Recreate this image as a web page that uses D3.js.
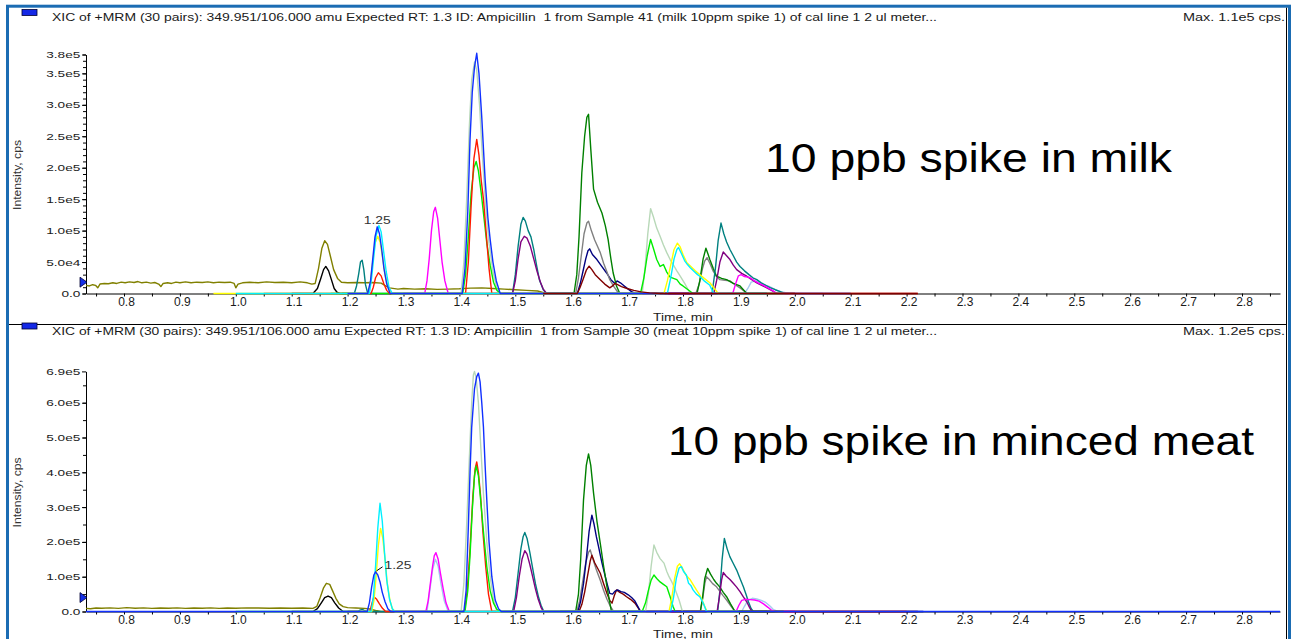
<!DOCTYPE html>
<html>
<head>
<meta charset="utf-8">
<script src="https://cdn.jsdelivr.net/npm/d3@7"></script>
<style>
body { margin: 0; background: #fff; }
svg { display: block; }
text { font-family: "Liberation Sans", Arial, sans-serif; fill: #1a1a1a; white-space: pre; }
</style>
</head>
<body>
<svg></svg>
<script>
// x axis (time, min)
let xTicks = [0.8, 0.9, 1.0, 1.1, 1.2, 1.3, 1.4, 1.5, 1.6, 1.7, 1.8, 1.9, 2.0, 2.1, 2.2, 2.3, 2.4, 2.5, 2.6, 2.7, 2.8];
let xLabels = ["0.8", "0.9", "1.0", "1.1", "1.2", "1.3", "1.4", "1.5", "1.6", "1.7", "1.8", "1.9", "2.0", "2.1", "2.2", "2.3", "2.4", "2.5", "2.6", "2.7", "2.8"];
let xMinorTicks = [0.75, 0.85, 0.95, 1.05, 1.15, 1.25, 1.35, 1.45, 1.55, 1.65, 1.75, 1.85, 1.95, 2.05, 2.15, 2.25, 2.35, 2.45, 2.55, 2.65, 2.75, 2.85];

// y axes (intensity, cps)
let milkYTicks = [0, 50000, 100000, 150000, 200000, 250000, 300000, 350000, 380000];
let milkYLabels = ["0.0", "5.0e4", "1.0e5", "1.5e5", "2.0e5", "2.5e5", "3.0e5", "3.5e5", "3.8e5"];
let meatYTicks = [0, 100000, 200000, 300000, 400000, 500000, 600000, 690000];
let meatYLabels = ["0.0", "1.0e5", "2.0e5", "3.0e5", "4.0e5", "5.0e5", "6.0e5", "6.9e5"];

let milkTitle = "XIC of +MRM (30 pairs): 349.951/106.000 amu Expected RT: 1.3 ID: Ampicillin  1 from Sample 41 (milk 10ppm spike 1) of cal line 1 2 ul meter...";
let meatTitle = "XIC of +MRM (30 pairs): 349.951/106.000 amu Expected RT: 1.3 ID: Ampicillin  1 from Sample 30 (meat 10ppm spike 1) of cal line 1 2 ul meter...";
let milkMax = "Max. 1.1e5 cps.";
let meatMax = "Max. 1.2e5 cps.";
let milkNote = "10 ppb spike in milk";
let meatNote = "10 ppb spike in minced meat";

// ---- milk traces [time, cps] ----
let milkOlive = [[0.732,13000],[0.738,12000],[0.744,14000],[0.749,13000],[0.753,9000],[0.757,15000],[0.765,16000],[0.772,15500],[0.78,17000],[0.787,16000],[0.795,18000],[0.802,17000],[0.81,18500],[0.818,17500],[0.825,19000],[0.832,17000],[0.84,18000],[0.848,16500],[0.855,17500],[0.862,15000],[0.866,11000],[0.87,16000],[0.878,17000],[0.885,16000],[0.893,18000],[0.9,17000],[0.91,18500],[0.92,17000],[0.93,18000],[0.94,17500],[0.95,18500],[0.96,17000],[0.97,18000],[0.98,17500],[0.99,18000],[0.997,16000],[1.0,9000],[1.004,15000],[1.012,17000],[1.025,18000],[1.04,17000],[1.055,18500],[1.07,17500],[1.085,18000],[1.1,17000],[1.115,18500],[1.128,17000],[1.136,15000],[1.142,16000],[1.148,40000],[1.154,72000],[1.159,84000],[1.164,78000],[1.169,60000],[1.175,38000],[1.182,24000],[1.189,18000],[1.2,17000],[1.215,17500],[1.23,17000],[1.245,17500],[1.26,16500],[1.268,12000],[1.275,9000],[1.29,7000],[1.3,8000],[1.32,7000],[1.34,7500],[1.36,6500],[1.38,7000],[1.4,7500],[1.42,8500],[1.44,9000],[1.46,8000],[1.48,7000],[1.5,6000],[1.52,5000],[1.54,4000],[1.555,0],[1.6,0]];
let milkBlack = [[1.1,0],[1.138,0],[1.146,8000],[1.152,24000],[1.157,38000],[1.161,43000],[1.166,36000],[1.171,22000],[1.176,8000],[1.181,2000],[1.186,0],[1.2,0]];
let milkTeal = [[1.19,0],[1.212,0],[1.216,12000],[1.22,32000],[1.223,50000],[1.226,53000],[1.229,38000],[1.232,14000],[1.236,0],[1.495,0],[1.5,30000],[1.505,75000],[1.51,110000],[1.514,121000],[1.518,115000],[1.523,100000],[1.528,90000],[1.533,70000],[1.538,45000],[1.543,22000],[1.55,6000],[1.556,0],[1.852,0],[1.858,40000],[1.863,85000],[1.868,112000],[1.873,95000],[1.878,82000],[1.884,70000],[1.89,60000],[1.896,50000],[1.902,43000],[1.91,36000],[1.918,30000],[1.925,25000],[1.932,22000],[1.94,17000],[1.948,13000],[1.956,9500],[1.965,6000],[1.975,2500],[1.982,0],[2.0,0]];
let milkBlue = [[1.2,0],[1.236,0],[1.241,20000],[1.245,55000],[1.249,90000],[1.253,106000],[1.257,95000],[1.261,70000],[1.265,40000],[1.27,15000],[1.276,0],[1.405,0],[1.41,40000],[1.415,130000],[1.419,245000],[1.423,320000],[1.427,360000],[1.431,382000],[1.435,350000],[1.44,280000],[1.446,181000],[1.451,120000],[1.455,86000],[1.46,50000],[1.466,20000],[1.473,0],[2.1,0]];
let milkCyan = [[1.0,0],[1.239,0],[1.243,25000],[1.247,60000],[1.251,92000],[1.256,108000],[1.26,98000],[1.264,70000],[1.269,35000],[1.274,10000],[1.28,0],[1.772,0],[1.778,25000],[1.784,55000],[1.789,70000],[1.792,73000],[1.797,64000],[1.803,52000],[1.808,46000],[1.813,41000],[1.82,35000],[1.826,30000],[1.83,27500],[1.838,20000],[1.848,13000],[1.855,0],[1.95,0]];
let milkYellow = [[0.96,0],[1.237,0],[1.241,20000],[1.245,50000],[1.249,80000],[1.254,91000],[1.258,82000],[1.262,60000],[1.267,30000],[1.272,10000],[1.278,0],[1.766,0],[1.772,20000],[1.778,45000],[1.784,70000],[1.79,80000],[1.795,74000],[1.8,62000],[1.807,49000],[1.815,42000],[1.822,36000],[1.83,30000],[1.838,24000],[1.848,17000],[1.856,8000],[1.863,0],[2.0,0]];
let milkRed = [[1.05,0],[1.242,0],[1.246,10000],[1.25,25000],[1.255,33000],[1.26,28000],[1.265,15000],[1.27,5000],[1.275,0],[1.411,0],[1.416,50000],[1.421,140000],[1.426,215000],[1.431,245000],[1.435,220000],[1.439,180000],[1.443,150000],[1.448,95000],[1.453,40000],[1.458,0],[2.22,0]];
let milkMagenta = [[1.3,0],[1.338,0],[1.342,20000],[1.346,55000],[1.35,100000],[1.354,130000],[1.357,137000],[1.361,120000],[1.365,85000],[1.369,50000],[1.374,20000],[1.38,0],[1.889,0],[1.894,15000],[1.899,28000],[1.904,30000],[1.91,27000],[1.916,26000],[1.92,25000],[1.928,20000],[1.936,16000],[1.944,13000],[1.952,9000],[1.96,5000],[1.968,0],[2.0,0]];
let milkSage = [[1.38,0],[1.403,0],[1.408,50000],[1.413,150000],[1.418,270000],[1.422,340000],[1.427,368000],[1.431,355000],[1.436,300000],[1.441,220000],[1.447,140000],[1.453,80000],[1.46,35000],[1.467,8000],[1.472,0],[1.727,0],[1.732,40000],[1.737,95000],[1.742,135000],[1.747,122000],[1.753,104000],[1.759,91000],[1.765,77000],[1.771,65000],[1.777,54000],[1.783,45000],[1.789,36000],[1.795,27500],[1.803,16000],[1.813,0],[1.85,0]];
let milkGreen = [[1.17,0],[1.406,0],[1.411,30000],[1.416,90000],[1.421,160000],[1.426,200000],[1.43,210000],[1.434,195000],[1.439,160000],[1.444,120000],[1.449,80000],[1.455,45000],[1.461,18000],[1.467,5000],[1.474,0],[1.724,0],[1.73,25000],[1.736,60000],[1.742,86000],[1.747,72000],[1.753,54000],[1.759,43000],[1.765,46000],[1.771,34000],[1.777,26000],[1.783,24000],[1.789,22000],[1.795,15000],[1.8,12000],[1.809,6000],[1.818,0],[1.98,0]];
let milkPurple = [[1.47,0],[1.495,0],[1.5,20000],[1.505,55000],[1.51,82000],[1.516,91000],[1.521,88000],[1.527,75000],[1.533,55000],[1.539,35000],[1.545,18000],[1.55,7000],[1.556,0],[1.855,0],[1.86,20000],[1.866,50000],[1.872,66000],[1.878,60000],[1.884,54000],[1.89,45000],[1.896,38000],[1.905,32000],[1.914,27500],[1.923,22000],[1.932,17000],[1.941,13000],[1.95,9000],[1.96,4000],[1.968,0],[2.0,0]];
let milkDarkGreen = [[1.58,0],[1.605,0],[1.61,30000],[1.614,90000],[1.619,192000],[1.624,250000],[1.628,280000],[1.631,285000],[1.635,230000],[1.64,166000],[1.647,145000],[1.655,128000],[1.661,108000],[1.666,86000],[1.671,55000],[1.675,33000],[1.681,12000],[1.687,0],[1.825,0],[1.83,20000],[1.836,55000],[1.841,72000],[1.845,62000],[1.848,54000],[1.854,40000],[1.86,27500],[1.869,24000],[1.878,22000],[1.89,16000],[1.902,12000],[1.914,0],[1.95,0]];
let milkGray = [[1.58,0],[1.608,0],[1.613,25000],[1.618,60000],[1.623,95000],[1.628,112000],[1.631,115000],[1.636,100000],[1.642,85000],[1.647,75000],[1.652,65000],[1.658,48000],[1.664,34000],[1.669,22000],[1.677,10000],[1.685,0],[1.823,0],[1.829,15000],[1.835,40000],[1.839,52000],[1.843,57000],[1.848,48000],[1.854,35500],[1.86,27000],[1.866,22000],[1.875,21000],[1.884,20000],[1.893,14000],[1.902,9000],[1.915,0],[1.95,0]];
let milkNavy = [[1.55,0],[1.611,0],[1.616,15000],[1.621,35000],[1.626,55000],[1.63,68000],[1.633,71000],[1.638,62000],[1.646,54000],[1.654,44000],[1.663,33000],[1.671,22000],[1.678,16000],[1.682,20000],[1.688,17000],[1.695,12000],[1.702,7000],[1.708,3000],[1.715,0],[1.75,0]];
let milkMaroon = [[1.55,0],[1.611,0],[1.616,10000],[1.621,22000],[1.627,37000],[1.632,43500],[1.637,38000],[1.643,30000],[1.652,22000],[1.66,15000],[1.669,9000],[1.674,12000],[1.678,16000],[1.683,14000],[1.69,11000],[1.7,8000],[1.712,5000],[1.725,2500],[1.74,1000],[1.76,0],[2.22,0]];
let milkLightBlue = [[1.88,0],[1.91,0],[1.916,8000],[1.922,18000],[1.93,20000],[1.938,17000],[1.946,14000],[1.955,11000],[1.965,6000],[1.975,3000],[1.99,0],[2.05,0]];

// ---- minced meat traces [time, cps] ----
let meatOlive = [[0.732,9000],[0.74,8000],[0.75,10000],[0.76,9500],[0.775,10500],[0.79,9000],[0.805,11000],[0.82,9500],[0.835,10500],[0.85,9000],[0.865,10000],[0.88,9500],[0.895,10500],[0.91,9000],[0.925,10000],[0.94,9500],[0.955,10500],[0.97,9000],[0.985,10000],[1.0,9500],[1.02,10500],[1.04,10000],[1.06,9500],[1.08,10000],[1.1,9500],[1.12,10000],[1.138,9000],[1.145,15000],[1.151,40000],[1.157,68000],[1.162,81000],[1.168,78000],[1.173,60000],[1.179,38000],[1.185,22000],[1.192,14000],[1.2,11000],[1.215,10000],[1.23,9000],[1.24,7000],[1.25,3000],[1.26,0],[1.3,0]];
let meatBlack = [[1.1,0],[1.138,0],[1.146,8000],[1.153,25000],[1.159,40000],[1.165,44500],[1.171,40000],[1.177,25000],[1.184,10000],[1.192,0],[1.22,0]];
let meatTeal = [[1.2,0],[1.218,0],[1.222,4000],[1.226,6000],[1.23,3000],[1.235,0],[1.495,0],[1.5,40000],[1.505,110000],[1.51,180000],[1.514,215000],[1.517,227000],[1.521,210000],[1.526,170000],[1.531,125000],[1.536,80000],[1.541,45000],[1.546,18000],[1.551,0],[1.862,0],[1.866,60000],[1.87,150000],[1.874,210000],[1.879,180000],[1.884,157000],[1.89,138000],[1.896,119000],[1.902,95000],[1.908,71000],[1.913,48000],[1.917,28000],[1.922,8000],[1.926,0],[1.98,0]];
let meatBlue = [[0.732,0],[1.235,0],[1.239,25000],[1.243,70000],[1.247,105000],[1.25,114000],[1.254,105000],[1.258,85000],[1.262,55000],[1.267,28000],[1.272,8000],[1.277,0],[1.408,0],[1.412,60000],[1.416,244000],[1.419,400000],[1.422,530000],[1.427,640000],[1.431,675000],[1.434,685000],[1.437,660000],[1.44,600000],[1.443,530000],[1.446,420000],[1.449,320000],[1.453,200000],[1.458,100000],[1.464,33000],[1.47,8000],[1.475,0],[2.868,0]];
let meatCyan = [[1.0,0],[1.242,0],[1.246,40000],[1.25,130000],[1.254,240000],[1.258,311000],[1.262,260000],[1.266,170000],[1.27,90000],[1.275,35000],[1.28,8000],[1.284,0],[1.778,0],[1.783,40000],[1.788,95000],[1.793,125000],[1.797,129000],[1.801,115000],[1.806,105000],[1.81,81000],[1.814,75000],[1.818,62000],[1.824,50000],[1.83,42500],[1.836,25000],[1.842,0],[1.9,0]];
let meatYellow = [[1.0,0],[1.243,0],[1.247,30000],[1.251,100000],[1.255,190000],[1.259,239000],[1.263,210000],[1.267,150000],[1.271,80000],[1.276,30000],[1.28,8000],[1.285,0],[1.775,0],[1.78,40000],[1.785,95000],[1.79,130000],[1.794,137000],[1.799,125000],[1.805,105000],[1.813,91000],[1.819,75000],[1.824,62000],[1.829,50000],[1.833,38000],[1.838,18000],[1.843,0],[1.9,0]];
let meatRed = [[1.2,0],[1.24,0],[1.243,20000],[1.247,42500],[1.252,35000],[1.257,22000],[1.262,10000],[1.268,0],[1.409,0],[1.414,60000],[1.419,180000],[1.424,330000],[1.428,410000],[1.431,430000],[1.434,400000],[1.438,330000],[1.442,230000],[1.447,130000],[1.452,50000],[1.458,0],[2.2,0]];
let meatMagenta = [[1.3,0],[1.34,0],[1.344,30000],[1.348,80000],[1.352,130000],[1.355,160000],[1.358,169000],[1.362,150000],[1.366,110000],[1.371,65000],[1.376,25000],[1.382,0],[1.895,0],[1.9,18000],[1.905,32000],[1.912,35000],[1.92,34000],[1.928,33000],[1.936,30000],[1.944,22000],[1.952,12000],[1.958,4000],[1.965,0],[2.0,0]];
let meatLightBlue = [[1.33,0],[1.342,0],[1.347,60000],[1.352,120000],[1.357,150000],[1.362,130000],[1.367,80000],[1.373,30000],[1.38,0],[1.905,0],[1.91,15000],[1.916,32000],[1.924,38000],[1.932,36000],[1.94,32000],[1.948,26000],[1.956,15000],[1.962,5000],[1.97,0],[2.0,0]];
let meatSage = [[1.38,0],[1.403,0],[1.408,80000],[1.413,250000],[1.418,450000],[1.422,600000],[1.425,680000],[1.427,690000],[1.43,670000],[1.434,600000],[1.438,480000],[1.443,340000],[1.449,200000],[1.455,100000],[1.461,35000],[1.467,0],[1.733,0],[1.738,50000],[1.743,130000],[1.748,191000],[1.753,170000],[1.759,152000],[1.766,139000],[1.771,115000],[1.775,100000],[1.78,85000],[1.784,71000],[1.789,50000],[1.793,33000],[1.799,0],[1.85,0]];
let meatGreen = [[1.38,0],[1.41,0],[1.415,60000],[1.419,160000],[1.423,290000],[1.427,390000],[1.43,418000],[1.434,390000],[1.438,320000],[1.443,230000],[1.449,129000],[1.455,60000],[1.461,24000],[1.467,6000],[1.473,0],[1.727,0],[1.733,25000],[1.738,60000],[1.743,90000],[1.748,105000],[1.753,95000],[1.759,85000],[1.765,78000],[1.771,71000],[1.777,42500],[1.782,15000],[1.786,0],[1.98,0]];
let meatPurple = [[1.47,0],[1.497,0],[1.502,40000],[1.507,100000],[1.512,150000],[1.517,175000],[1.521,165000],[1.526,135000],[1.531,100000],[1.536,65000],[1.541,35000],[1.546,12000],[1.55,0],[1.861,0],[1.865,40000],[1.869,90000],[1.872,112000],[1.877,102000],[1.884,92000],[1.89,81000],[1.896,70000],[1.902,57000],[1.908,42000],[1.914,28000],[1.919,12000],[1.923,0],[1.96,0]];
let meatDarkGreen = [[1.58,0],[1.608,0],[1.613,50000],[1.617,150000],[1.622,320000],[1.627,420000],[1.631,453000],[1.635,420000],[1.64,340000],[1.646,260000],[1.652,196000],[1.658,130000],[1.664,71000],[1.668,35000],[1.672,0],[1.831,0],[1.835,40000],[1.839,95000],[1.844,124000],[1.849,108000],[1.855,92000],[1.86,81000],[1.866,70000],[1.872,55000],[1.878,42500],[1.885,22000],[1.893,0],[1.95,0]];
let meatGray = [[1.58,0],[1.61,0],[1.615,30000],[1.62,80000],[1.626,140000],[1.631,170000],[1.634,177000],[1.639,150000],[1.645,120000],[1.652,90000],[1.658,60000],[1.664,35000],[1.67,15000],[1.676,0],[1.831,0],[1.835,35000],[1.839,80000],[1.842,100000],[1.847,92000],[1.853,80000],[1.86,71000],[1.866,58000],[1.872,45000],[1.878,33000],[1.886,15000],[1.893,0],[1.95,0]];
let meatNavy = [[1.58,0],[1.612,0],[1.617,30000],[1.622,80000],[1.627,150000],[1.632,230000],[1.637,277000],[1.641,250000],[1.645,215000],[1.649,186000],[1.655,140000],[1.661,100000],[1.665,75000],[1.669,52000],[1.674,50000],[1.678,58000],[1.683,62000],[1.689,57000],[1.695,55000],[1.702,48000],[1.708,40000],[1.714,30000],[1.72,12000],[1.724,0],[2.23,0]];
let meatMaroon = [[1.58,0],[1.614,0],[1.619,20000],[1.624,55000],[1.629,100000],[1.634,145000],[1.637,162000],[1.642,140000],[1.647,125000],[1.652,110000],[1.658,80000],[1.664,52000],[1.669,32000],[1.673,24000],[1.677,45000],[1.681,62000],[1.687,55000],[1.693,50000],[1.699,42500],[1.706,35000],[1.714,24000],[1.72,10000],[1.724,0],[2.22,0]];

let traceColors = {
    olive: "#808000", black: "#000000", teal: "#008080", blue: "#1030ff",
    cyan: "#00f0ff", yellow: "#ffff00", red: "#ff1a00", magenta: "#ff00ff",
    sage: "#b8d8b8", green: "#00ee00", purple: "#800080", darkGreen: "#008000",
    gray: "#808080", navy: "#000080", maroon: "#800000", lightBlue: "#a6caf0"
};

// draw order follows the overlay in the picture
let milkSeries = [
    [milkOlive, "olive"], [milkBlack, "black"], [milkLightBlue, "lightBlue"], [milkNavy, "navy"],
    [milkGray, "gray"], [milkDarkGreen, "darkGreen"], [milkTeal, "teal"], [milkPurple, "purple"],
    [milkMagenta, "magenta"], [milkSage, "sage"], [milkGreen, "green"], [milkRed, "red"],
    [milkYellow, "yellow"], [milkCyan, "cyan"], [milkBlue, "blue"], [milkMaroon, "maroon"]
];
let meatSeries = [
    [meatOlive, "olive"], [meatBlack, "black"], [meatLightBlue, "lightBlue"], [meatTeal, "teal"],
    [meatGray, "gray"], [meatMaroon, "maroon"], [meatNavy, "navy"], [meatDarkGreen, "darkGreen"],
    [meatPurple, "purple"], [meatMagenta, "magenta"], [meatSage, "sage"], [meatRed, "red"],
    [meatGreen, "green"], [meatYellow, "yellow"], [meatCyan, "cyan"], [meatBlue, "blue"]
];

let width = 1293;
let height = 639;

let svg = d3.select("svg")
    .attr("width", width)
    .attr("height", height);

let xScale = d3.scaleLinear()
    .domain([0.732, 2.868])
    .range([86, 1280]);

let panels = [
    {
        title: milkTitle, max: milkMax, note: milkNote, series: milkSeries,
        yTicks: milkYTicks, yLabels: milkYLabels, yMinor: d3.range(0, 380001, 10000),
        yMax: 380000, yZero: 293.5, yTop: 54.5, headerY: 21,
        noteX: 765, noteY: 172, noteLen: 407, markerValue: 18000,
        peakTrace: milkBlue, timeY: 321, labelDx: 0, leader: false
    },
    {
        title: meatTitle, max: meatMax, note: meatNote, series: meatSeries,
        yTicks: meatYTicks, yLabels: meatYLabels, yMinor: d3.range(0, 690001, 50000),
        yMax: 690000, yZero: 611.5, yTop: 371.4, headerY: 334.5,
        noteX: 668, noteY: 455, noteLen: 586, markerValue: 40000,
        peakTrace: meatBlue, timeY: 637.5, labelDx: 9, leader: true
    }
];

let drawFrame = () => {
    svg.append("rect")
        .attr("x", 7.5).attr("y", 6.2)
        .attr("width", 1282).attr("height", 660)
        .attr("fill", "none")
        .attr("stroke", "#1b6cb3")
        .attr("stroke-width", 3);

    svg.append("line")
        .attr("x1", 1286.5).attr("y1", 7.7)
        .attr("x2", 1286.5).attr("y2", height)
        .attr("stroke", "#000");

    svg.append("line")
        .attr("x1", 9).attr("y1", 324.5)
        .attr("x2", 1286.5).attr("y2", 324.5)
        .attr("stroke", "#000")
        .attr("stroke-width", 1.2);
};

let drawPanel = (p) => {
    let yScale = d3.scaleLinear()
        .domain([0, p.yMax])
        .range([p.yZero, p.yTop]);

    let g = svg.append("g");

    // header line
    g.append("rect")
        .attr("x", 22).attr("y", p.headerY - 11.5)
        .attr("width", 15).attr("height", 6)
        .attr("fill", "#1428e6")
        .attr("stroke", "#000033")
        .attr("stroke-width", 0.8);

    g.append("text")
        .attr("x", 52).attr("y", p.headerY)
        .attr("font-size", 10)
        .attr("textLength", 885)
        .attr("lengthAdjust", "spacingAndGlyphs")
        .text(p.title);

    g.append("text")
        .attr("x", 1285).attr("y", p.headerY)
        .attr("text-anchor", "end")
        .attr("font-size", 10)
        .attr("textLength", 102)
        .attr("lengthAdjust", "spacingAndGlyphs")
        .text(p.max);

    // x axis
    g.append("g")
        .attr("transform", "translate(0, " + p.yZero + ")")
        .call(d3.axisBottom(xScale).tickValues(xMinorTicks).tickSize(3).tickFormat(""))
        .call(a => a.select(".domain").remove());

    let xAxis = g.append("g")
        .attr("transform", "translate(0, " + p.yZero + ")")
        .call(d3.axisBottom(xScale)
            .tickValues(xTicks)
            .tickFormat((d, i) => xLabels[i])
            .tickSize(3)
            .tickSizeOuter(0)
            .tickPadding(1));
    xAxis.selectAll("text")
        .attr("font-family", "Liberation Sans, Arial, sans-serif")
        .attr("font-size", 12)
        .attr("dx", 2)
        .style("fill", "#1a1a1a");

    g.append("text")
        .attr("x", 683).attr("y", p.timeY)
        .attr("text-anchor", "middle")
        .attr("font-size", 10.5)
        .attr("textLength", 60)
        .attr("lengthAdjust", "spacingAndGlyphs")
        .text("Time, min");

    // y axis
    g.append("g")
        .attr("transform", "translate(86, 0)")
        .call(d3.axisLeft(yScale).tickValues(p.yMinor).tickSize(3).tickFormat(""))
        .call(a => a.select(".domain").remove());

    let yAxis = g.append("g")
        .attr("transform", "translate(86, 0)")
        .call(d3.axisLeft(yScale)
            .tickValues(p.yTicks)
            .tickFormat((d, i) => p.yLabels[i])
            .tickSize(4)
            .tickSizeOuter(0)
            .tickPadding(0));
    yAxis.selectAll("text")
        .attr("font-family", "Liberation Sans, Arial, sans-serif")
        .attr("font-size", 9.6)
        .attr("transform", "scale(1.42, 1)")
        .style("fill", "#1a1a1a");

    let midY = (p.yZero + p.yTop) / 2 + 1;
    g.append("text")
        .attr("transform", "translate(21, " + midY + ") rotate(-90)")
        .attr("text-anchor", "middle")
        .attr("font-size", 10.5)
        .attr("textLength", 70)
        .attr("lengthAdjust", "spacingAndGlyphs")
        .style("fill", "#333")
        .text("Intensity, cps");

    // traces
    let line = d3.line()
        .x((d) => xScale(d[0]))
        .y((d) => yScale(d[1]));

    p.series.forEach((s) => {
        g.append("path")
            .datum(s[0])
            .attr("d", line)
            .attr("fill", "none")
            .attr("stroke", traceColors[s[1]])
            .attr("stroke-width", 1.4)
            .attr("stroke-linejoin", "round");
    });

    // peak label
    let apex = d3.greatest(p.peakTrace.filter((d) => d[0] < 1.3), (d) => d[1]);
    let ax = xScale(apex[0]);
    let ay = yScale(apex[1]);
    if (p.leader) {
        g.append("line")
            .attr("x1", ax + 1).attr("y1", ay - 1)
            .attr("x2", ax + 7).attr("y2", ay - 5)
            .attr("stroke", "#000");
    }
    g.append("text")
        .attr("x", ax + p.labelDx).attr("y", ay - 3)
        .attr("text-anchor", p.leader ? "start" : "middle")
        .attr("font-size", 11)
        .attr("textLength", 27)
        .attr("lengthAdjust", "spacingAndGlyphs")
        .style("fill", "#333")
        .text("1.25");

    // threshold marker
    g.append("path")
        .attr("transform", "translate(86, " + yScale(p.markerValue) + ")")
        .attr("d", "M-6,-5 L1,0 L-6,5 Z")
        .attr("fill", "#1530e8")
        .attr("stroke", "#000033")
        .attr("stroke-width", 0.8);

    // annotation
    g.append("text")
        .attr("x", p.noteX).attr("y", p.noteY)
        .attr("font-family", "Open Sans, sans-serif")
        .attr("font-size", 40)
        .attr("textLength", p.noteLen)
        .attr("lengthAdjust", "spacingAndGlyphs")
        .style("fill", "#000")
        .text(p.note);
};

drawFrame();
panels.forEach((p) => drawPanel(p));
</script>
</body>
</html>
